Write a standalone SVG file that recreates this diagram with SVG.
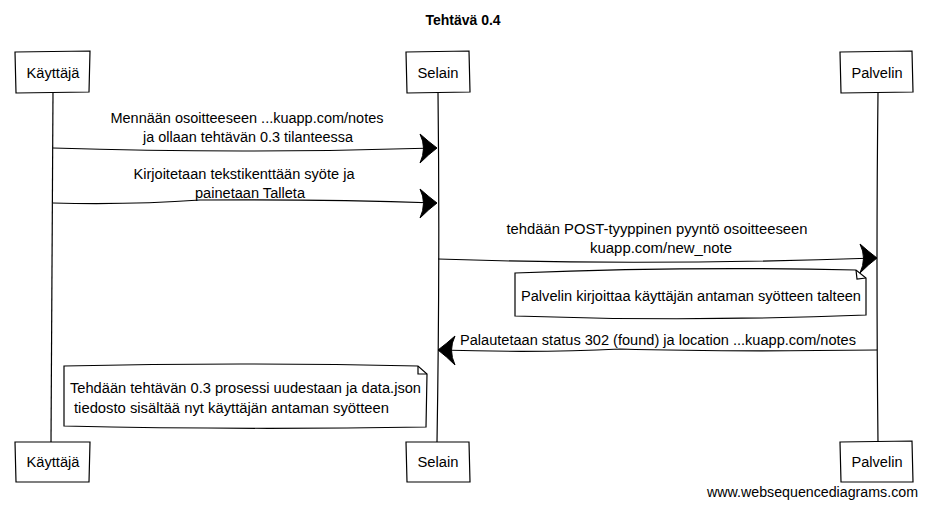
<svg xmlns="http://www.w3.org/2000/svg" width="927" height="506" viewBox="0 0 927 506">
<style>
text{font-family:"Liberation Sans",Arial,sans-serif;font-size:14px;fill:#000}
.t{font-weight:bold;font-size:14px}
.c{text-anchor:middle}
.box{fill:#fff;stroke:#000;stroke-width:1.2}
.ln{fill:none;stroke:#000;stroke-width:1.2}
.ah{fill:#000;stroke:#000;stroke-width:1}
</style>
<defs>
<path id="ahR" class="ah" d="M-17,-14 Q-8,-6 0,0 Q-8,6 -17,15 Q-10,0 -17,-14 Z"/>
<path id="ahL" class="ah" d="M17,-14 Q8,-6 0,0 Q8,6 17,15 Q10,0 17,-14 Z"/>
</defs>
<rect width="927" height="506" fill="#fff"/>
<text class="t c" x="463" y="25">Tehtävä 0.4</text>

<g id="lifelines">
<path class="ln" d="M53,92 Q52,260 51,442"/>
<path class="ln" d="M438,92 Q440,260 437,442"/>
<path class="ln" d="M878,93 Q876,260 878,442"/>
</g>

<g id="kayttaja-top">
<path class="box" d="M15,52 L90,51 L89,92 L16,93 Z"/>
<text class="c" x="53" y="78" textLength="53" lengthAdjust="spacingAndGlyphs">Käyttäjä</text>
</g>
<g id="selain-top">
<path class="box" d="M406,52 L469,51 L470,92 L407,93 Z"/>
<text class="c" x="438" y="78" textLength="41" lengthAdjust="spacingAndGlyphs">Selain</text>
</g>
<g id="palvelin-top">
<path class="box" d="M840,52 L912,51 L913,92 L841,93 Z"/>
<text class="c" x="877" y="78" textLength="51" lengthAdjust="spacingAndGlyphs">Palvelin</text>
</g>

<g id="kayttaja-bottom">
<path class="box" d="M15,442 L90,442 L89,482 L16,482 Z"/>
<text class="c" x="53" y="467" textLength="53" lengthAdjust="spacingAndGlyphs">Käyttäjä</text>
</g>
<g id="selain-bottom">
<path class="box" d="M406,442 L469,442 L470,482 L407,482 Z"/>
<text class="c" x="438" y="467" textLength="41" lengthAdjust="spacingAndGlyphs">Selain</text>
</g>
<g id="palvelin-bottom">
<path class="box" d="M840,442 L912,441 L913,482 L841,482 Z"/>
<text class="c" x="877" y="467" textLength="51" lengthAdjust="spacingAndGlyphs">Palvelin</text>
</g>

<g id="note-palvelin">
<path class="box" d="M515,273 Q690,266 856,270 L866,278 L866,315 Q690,322 515,316 Z"/>
<path class="ln" d="M856,270 L857,279 L866,278"/>
<text x="521" y="301" textLength="340" lengthAdjust="spacingAndGlyphs">Palvelin kirjoittaa käyttäjän antaman syötteen talteen</text>
</g>

<g id="note-selain">
<path class="box" d="M64,366 Q240,362 418,366 L427,374 L426,427 Q240,430 64,426 Z"/>
<path class="ln" d="M418,366 L418,374 L427,374"/>
<text x="70" y="393" textLength="351" lengthAdjust="spacingAndGlyphs">Tehdään tehtävän 0.3 prosessi uudestaan ja data.json</text>
<text x="74" y="413" textLength="315" lengthAdjust="spacingAndGlyphs">tiedosto sisältää nyt käyttäjän antaman syötteen</text>
</g>

<g id="connectors">
<path class="ln" d="M53,148 Q240,154 436,148"/>
<use href="#ahR" x="437" y="148"/>
<text class="c" x="247" y="123" textLength="273" lengthAdjust="spacingAndGlyphs">Mennään osoitteeseen ...kuapp.com/notes</text>
<text class="c" x="248" y="142" textLength="210" lengthAdjust="spacingAndGlyphs">ja ollaan tehtävän 0.3 tilanteessa</text>

<path class="ln" d="M53,203 Q130,205 200,200 Q320,199 436,203"/>
<use href="#ahR" x="437" y="203"/>
<text class="c" x="244" y="179" textLength="221" lengthAdjust="spacingAndGlyphs">Kirjoitetaan tekstikenttään syöte ja</text>
<text class="c" x="250" y="198" textLength="110" lengthAdjust="spacingAndGlyphs">painetaan Talleta</text>

<path class="ln" d="M438,259 Q640,266 876,258"/>
<use href="#ahR" x="877" y="258"/>
<text class="c" x="657" y="234" textLength="301" lengthAdjust="spacingAndGlyphs">tehdään POST-tyyppinen pyyntö osoitteeseen</text>
<text class="c" x="661" y="253" textLength="142" lengthAdjust="spacingAndGlyphs">kuapp.com/new_note</text>

<path class="ln" d="M877,350 Q720,352 620,349 Q540,353 439,350"/>
<use href="#ahL" x="438" y="350"/>
<text x="460" y="345" textLength="396" lengthAdjust="spacingAndGlyphs">Palautetaan status 302 (found) ja location ...kuapp.com/notes</text>
</g>

<text x="918" y="497" text-anchor="end" textLength="211" lengthAdjust="spacingAndGlyphs">www.websequencediagrams.com</text>
</svg>
